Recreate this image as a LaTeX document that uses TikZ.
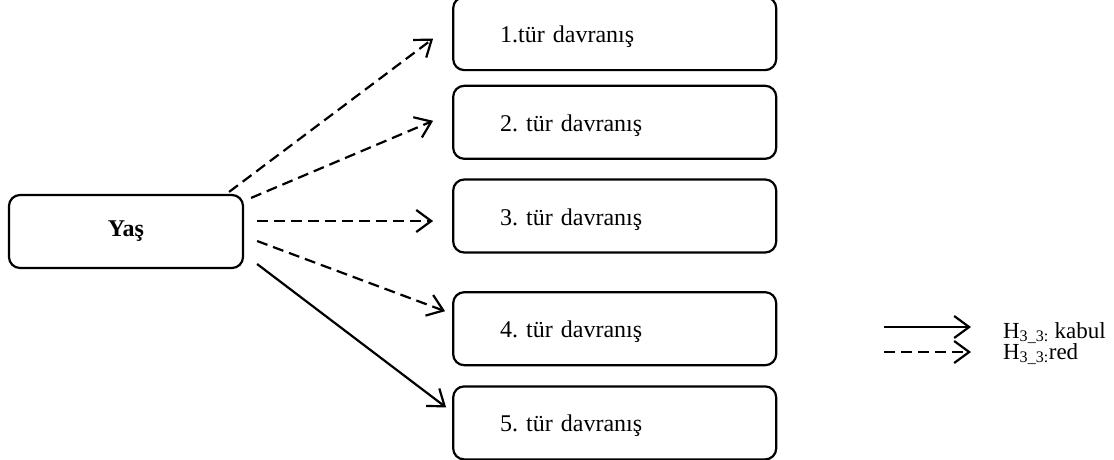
\documentclass[tikz,border=0pt]{standalone}
\usepackage{fontspec}
\setmainfont{Liberation Serif}
\usetikzlibrary{positioning,arrows.meta}

\begin{document}
\frenchspacing
\begin{tikzpicture}[font=\fontsize{24}{28}\selectfont, line width=2.2pt]
    \tikzstyle{box}=[rectangle, rounded corners=11pt, draw=black, minimum height=73pt]
    \tikzstyle{item}=[box, text width=229pt, inner xsep=47pt, align=left, text height=18pt, text depth=0pt]
    \tikzstyle{connect}=[-{Straight Barb[length=15pt,width=22pt]}]
    \tikzstyle{reject}=[connect, dash pattern=on 11pt off 6pt]
    \tikzstyle{legend}=[anchor=base west, inner sep=0pt, font=\fontsize{23}{26}\selectfont]

    \useasboundingbox (0pt,0pt) rectangle (1114pt,-459pt);

      \node[box, minimum width=234pt] (yas) at (126pt,-231.5pt) {\textbf{Yaş}};
      \node[item] (t3) [right=208pt of yas, yshift=15.5pt] {3. tür davranış};
      \node[item] (t2) [above=18.5pt of t3] {2. tür davranış};
      \node[item] (t1) [above=13.5pt of t2] {1.tür davranış};
      \node[item] (t4) [below=37.5pt of t3] {4. tür davranış};
      \node[item] (t5) [below=19pt of t4] {5. tür davranış};
      \path
        ([xshift=-15pt, yshift=2pt]yas.north east) edge [reject] ([xshift=-19pt, yshift=-5pt]t1.west)
        ([xshift=7pt, yshift=-4pt]yas.north east) edge [reject] ([xshift=-19pt, yshift=1.5pt]t2.west)
        ([xshift=13pt, yshift=10.5pt]yas.east) edge [reject] ([xshift=-19pt, yshift=-5pt]t3.west)
        ([xshift=13pt, yshift=-9.5pt]yas.east) edge [reject] ([xshift=-7pt, yshift=17.5pt]t4.west)
        ([xshift=13pt, yshift=-32.5pt]yas.east) edge [connect] ([xshift=-6pt, yshift=15.5pt]t5.west);

      % legend
      \coordinate (k1) at (884pt,-327pt);
      \coordinate (k2) at (971pt,-327pt);
      \coordinate (r1) at (884pt,-352pt);
      \coordinate (r2) at (971pt,-352pt);
      \node[legend] (kabul) at (1002pt,-338pt) {H\textsubscript{3\_3:} kabul};
      \node[legend] (red) at (1002pt,-359pt) {H\textsubscript{3\_3:}red};
      \path
        (k1) edge [connect] (k2)
        (r1) edge [reject] (r2);
\end{tikzpicture}
\end{document}
